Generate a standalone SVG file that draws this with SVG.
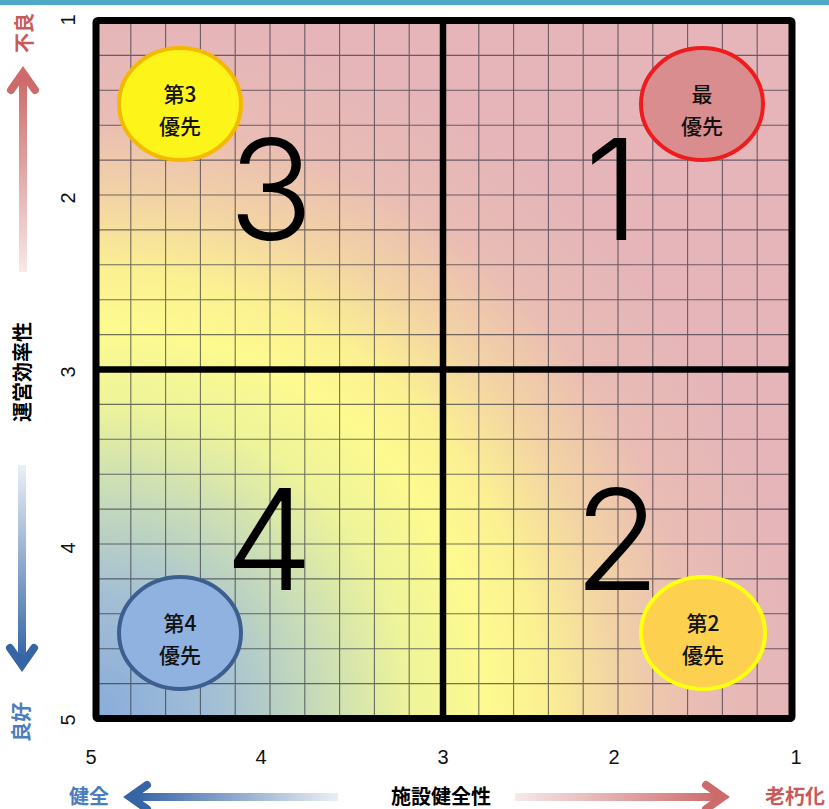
<svg xmlns="http://www.w3.org/2000/svg" width="829" height="809" viewBox="0 0 829 809">
<defs>
<style>
.grid{stroke:#2a2a38;stroke-opacity:0.65;stroke-width:1.1;fill:none}
.thick{stroke:#000;fill:none;stroke-linejoin:round}
.big{font-family:Inter,"Liberation Sans",sans-serif;font-weight:300;font-size:140px;fill:#000;text-anchor:middle}
.ct{font-family:"Noto Sans CJK JP","Liberation Sans",sans-serif;font-size:21px;font-weight:500;fill:#111;text-anchor:middle}
.tick{font-family:"Liberation Sans",Arial,sans-serif;font-size:20px;fill:#111;text-anchor:middle}
.ax{font-family:"Noto Sans CJK JP",sans-serif;font-size:20px;font-weight:700;text-anchor:middle}
</style>
<radialGradient id="bg" gradientUnits="userSpaceOnUse" cx="96" cy="718" r="700">
<stop offset="0" stop-color="#88acdc"/>
<stop offset="0.18" stop-color="#a4c0d4"/>
<stop offset="0.32" stop-color="#c8dcb8"/>
<stop offset="0.45" stop-color="#eef49a"/>
<stop offset="0.56" stop-color="#fdfa8f"/>
<stop offset="0.64" stop-color="#fbf092"/>
<stop offset="0.74" stop-color="#f3d4a4"/>
<stop offset="0.86" stop-color="#e9bcb4"/>
<stop offset="1" stop-color="#e5b5b9"/>
</radialGradient>
<linearGradient id="gUp" gradientUnits="userSpaceOnUse" x1="0" y1="272" x2="0" y2="80">
<stop offset="0" stop-color="#cd6b6b" stop-opacity="0.15"/>
<stop offset="1" stop-color="#cd6b6b"/>
</linearGradient>
<linearGradient id="gDown" gradientUnits="userSpaceOnUse" x1="0" y1="465" x2="0" y2="660">
<stop offset="0" stop-color="#3565a5" stop-opacity="0.1"/>
<stop offset="1" stop-color="#3565a5"/>
</linearGradient>
<linearGradient id="gLeft" gradientUnits="userSpaceOnUse" x1="338" y1="0" x2="135" y2="0">
<stop offset="0" stop-color="#3565a5" stop-opacity="0.1"/>
<stop offset="1" stop-color="#3565a5"/>
</linearGradient>
<linearGradient id="gRight" gradientUnits="userSpaceOnUse" x1="515" y1="0" x2="718" y2="0">
<stop offset="0" stop-color="#cd6b6b" stop-opacity="0.15"/>
<stop offset="1" stop-color="#cd6b6b"/>
</linearGradient>
</defs>
<rect x="0" y="0" width="829" height="809" fill="#fff"/>
<rect x="0" y="0" width="829" height="5" fill="#4ea9c6"/>
<g id="chart">
<rect x="96" y="20.5" width="696" height="698" fill="url(#bg)"/>
<path class="grid" d="M130.8 20.5V718.5M165.6 20.5V718.5M200.4 20.5V718.5M235.2 20.5V718.5M270 20.5V718.5M304.8 20.5V718.5M339.6 20.5V718.5M374.4 20.5V718.5M409.2 20.5V718.5M478.8 20.5V718.5M513.6 20.5V718.5M548.4 20.5V718.5M583.2 20.5V718.5M618 20.5V718.5M652.8 20.5V718.5M687.6 20.5V718.5M722.4 20.5V718.5M757.2 20.5V718.5M96 55.4H792M96 90.3H792M96 125.2H792M96 160.1H792M96 195H792M96 229.9H792M96 264.8H792M96 299.7H792M96 334.6H792M96 404.4H792M96 439.3H792M96 474.2H792M96 509.1H792M96 544H792M96 578.9H792M96 613.8H792M96 648.7H792M96 683.6H792"/>
<path class="thick" stroke-width="6.5" d="M443 20.5V718.5M96 369.5H792"/>
<rect class="thick" stroke-width="7" x="96" y="20.5" width="696" height="698" rx="2"/>
</g>
<g id="quadrant-labels">
<text class="big" x="271" y="240">3</text>
<text class="big" x="612" y="240">1</text>
<text class="big" x="269" y="590">4</text>
<text class="big" x="617" y="590">2</text>
</g>
<g id="node-p3">
<ellipse cx="180" cy="104" rx="61" ry="56" fill="#fdf51a" stroke="#f5b800" stroke-width="4"/>
<text class="ct" x="180" y="102">第3</text>
<text class="ct" x="180" y="134">優先</text>
</g>
<g id="node-p1">
<ellipse cx="702" cy="104" rx="61" ry="56" fill="#d98d8f" stroke="#ee1c1c" stroke-width="4"/>
<text class="ct" x="702" y="102">最</text>
<text class="ct" x="702" y="134">優先</text>
</g>
<g id="node-p2">
<ellipse cx="703" cy="633" rx="62" ry="56" fill="#fdd050" stroke="#ffff10" stroke-width="4"/>
<text class="ct" x="703" y="631">第2</text>
<text class="ct" x="703" y="663">優先</text>
</g>
<g id="node-p4">
<ellipse cx="180" cy="633" rx="61" ry="56" fill="#8fb2e0" stroke="#3d5f90" stroke-width="4"/>
<text class="ct" x="180" y="631">第4</text>
<text class="ct" x="180" y="663">優先</text>
</g>
<g id="axis-ticks">
<g class="tick">
<text transform="translate(75 20) rotate(-90)">1</text>
<text transform="translate(75 198) rotate(-90)">2</text>
<text transform="translate(75 372) rotate(-90)">3</text>
<text transform="translate(75 548) rotate(-90)">4</text>
<text transform="translate(75 720) rotate(-90)">5</text>
</g>
<text class="tick" x="91" y="764">5</text>
<text class="tick" x="261" y="764">4</text>
<text class="tick" x="443" y="764">3</text>
<text class="tick" x="614" y="764">2</text>
<text class="tick" x="796" y="764">1</text>
</g>
<g id="axis-titles">
<text class="ax" fill="#c95a5a" transform="translate(32 33) rotate(-90)">不良</text>
<text class="ax" fill="#000" transform="translate(30 372) rotate(-90)">運営効率性</text>
<text class="ax" fill="#4a7cc0" transform="translate(29 722) rotate(-90)">良好</text>
<text class="ax" fill="#4a7cc0" x="89" y="804">健全</text>
<text class="ax" fill="#000" x="441" y="804">施設健全性</text>
<text class="ax" fill="#c95a5a" x="795" y="804">老朽化</text>
</g>
<g id="connectors" fill="none" stroke-width="8" stroke-linecap="round">
<path d="M23 272V76" stroke="url(#gUp)" stroke-linecap="butt"/>
<path d="M11 90L23 73L35 90" stroke="#cd6b6b" stroke-linejoin="miter"/>
<path d="M22 465V662" stroke="url(#gDown)" stroke-linecap="butt"/>
<path d="M10 648L22 665L34 648" stroke="#3565a5" stroke-linejoin="miter"/>
<path d="M338 797H133" stroke="url(#gLeft)" stroke-linecap="butt"/>
<path d="M147 785L130 797L147 809" stroke="#3565a5" stroke-linejoin="miter"/>
<path d="M515 797H720" stroke="url(#gRight)" stroke-linecap="butt"/>
<path d="M706 785L723 797L706 809" stroke="#cd6b6b" stroke-linejoin="miter"/>
</g>
</svg>
